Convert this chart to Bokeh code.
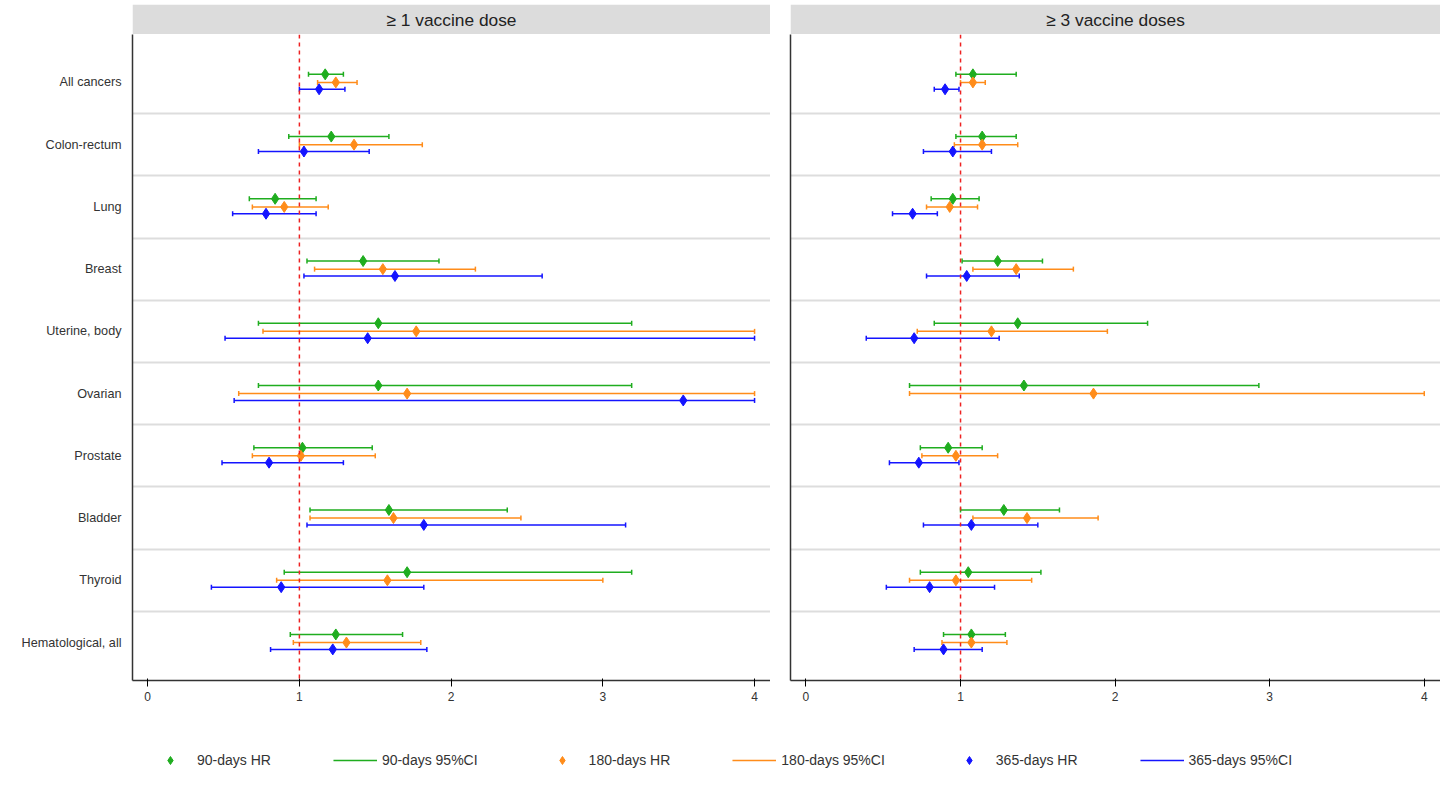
import numpy as np
from bokeh.plotting import figure
from bokeh.models import (ColumnDataSource, Whisker, TeeHead, Span, FixedTicker,
                          Legend, LegendItem, BoxAnnotation, Label)
from bokeh.layouts import column, row
from bokeh.embed import file_html
from bokeh.resources import INLINE

categories = ["All cancers", "Colon-rectum", "Lung", "Breast", "Uterine, body",
              "Ovarian", "Prostate", "Bladder", "Thyroid", "Hematological, all"]
panels = ["\u2265 1 vaccine dose", "\u2265 3 vaccine doses"]
xticks = [0, 1, 2, 3, 4]

# Panel 1: >= 1 dose
p1_hr90 = [1.17, 1.21, 0.84, 1.42, 1.52, 1.52, 1.02, 1.59, 1.71, 1.24]
p1_lo90 = [1.06, 0.93, 0.67, 1.05, 0.73, 0.73, 0.70, 1.07, 0.90, 0.94]
p1_hi90 = [1.29, 1.59, 1.11, 1.92, 3.19, 3.19, 1.48, 2.37, 3.19, 1.68]
p1_hr180 = [1.24, 1.36, 0.90, 1.55, 1.77, 1.71, 1.01, 1.62, 1.58, 1.31]
p1_lo180 = [1.12, 1.00, 0.69, 1.10, 0.76, 0.60, 0.69, 1.07, 0.85, 0.96]
p1_hi180 = [1.38, 1.81, 1.19, 2.16, 4.00, 4.00, 1.50, 2.46, 3.00, 1.80]
p1_hr365 = [1.13, 1.03, 0.78, 1.63, 1.45, 3.53, 0.80, 1.82, 0.88, 1.22]
p1_lo365 = [1.00, 0.73, 0.56, 1.03, 0.51, 0.57, 0.49, 1.05, 0.42, 0.81]
p1_hi365 = [1.30, 1.46, 1.11, 2.60, 4.00, 4.00, 1.29, 3.15, 1.82, 1.84]

# Panel 2: >= 3 doses
p2_hr90 = [1.08, 1.14, 0.95, 1.24, 1.37, 1.41, 0.92, 1.28, 1.05, 1.07]
p2_lo90 = [0.97, 0.97, 0.81, 1.01, 0.83, 0.67, 0.74, 1.00, 0.74, 0.89]
p2_hi90 = [1.36, 1.36, 1.12, 1.53, 2.21, 2.93, 1.14, 1.64, 1.52, 1.29]
p2_hr180 = [1.08, 1.14, 0.93, 1.36, 1.20, 1.86, 0.97, 1.43, 0.97, 1.07]
p2_lo180 = [1.00, 0.96, 0.78, 1.08, 0.72, 0.67, 0.75, 1.08, 0.67, 0.88]
p2_hi180 = [1.16, 1.37, 1.11, 1.73, 1.95, 4.00, 1.24, 1.89, 1.46, 1.30]
p2_hr365 = [0.90, 0.95, 0.69, 1.04, 0.70, np.nan, 0.73, 1.07, 0.80, 0.89]
p2_lo365 = [0.83, 0.76, 0.56, 0.78, 0.39, np.nan, 0.54, 0.76, 0.52, 0.70]
p2_hi365 = [0.99, 1.20, 0.85, 1.38, 1.25, np.nan, 0.99, 1.50, 1.22, 1.14]

COLORS = {"90": "#1fad1f", "180": "#ff8c1a", "365": "#1414ff"}
OFFS = {"90": 0.13, "180": 0.0, "365": -0.11}
n = len(categories)
ypos = [n - i for i in range(n)]


def make_header(title, width, left_border):
    h = figure(width=width, height=34, x_range=(0, 1), y_range=(0, 1),
               output_backend="svg", toolbar_location=None,
               min_border_left=left_border, min_border_right=0,
               min_border_top=4, min_border_bottom=0)
    h.axis.visible = False
    h.grid.visible = False
    h.outline_line_color = None
    h.add_layout(BoxAnnotation(fill_color="#dcdcdc", fill_alpha=1, line_color=None))
    h.add_layout(Label(x=0.5, y=0.5, text=title, text_align="center",
                       text_baseline="middle", text_font="Liberation Sans",
                       text_font_size="13pt", text_color="#222222"))
    return h


def make_panel(series, width, left_border, show_labels):
    p = figure(width=width, height=676, x_range=(-0.1, 4.105), y_range=(0.39, 10.77),
               output_backend="svg", toolbar_location=None,
               min_border_left=left_border, min_border_right=0, min_border_top=0,
               min_border_bottom=30)
    p.outline_line_color = None
    p.xgrid.visible = False
    p.ygrid.ticker = FixedTicker(ticks=[i + 0.5 for i in range(1, n)])
    p.ygrid.grid_line_color = "#dddddd"
    p.ygrid.grid_line_width = 2
    p.xaxis.ticker = FixedTicker(ticks=xticks)
    p.xaxis.minor_tick_line_color = None
    p.xaxis.major_label_text_font = "Liberation Sans"
    p.xaxis.major_label_text_font_size = "9pt"
    p.xaxis.major_label_text_color = "#333333"
    p.xaxis.axis_line_color = "#333333"
    p.xaxis.axis_line_width = 1.5
    p.yaxis.ticker = FixedTicker(ticks=ypos)
    p.yaxis.major_tick_line_color = None
    p.yaxis.minor_tick_line_color = None
    p.yaxis.axis_line_color = "#333333"
    p.yaxis.axis_line_width = 1.5
    if show_labels:
        p.yaxis.major_label_overrides = {y: c for y, c in zip(ypos, categories)}
        p.yaxis.major_label_text_font = "Liberation Sans"
        p.yaxis.major_label_text_font_size = "9.5pt"
        p.yaxis.major_label_text_color = "#333333"
    else:
        p.yaxis.major_label_text_font_size = "0pt"
    p.add_layout(Span(location=1, dimension="height", line_color="#ee2222",
                      line_dash="4 4", line_width=1.5))
    for key, (hr, lo, hi) in series.items():
        ys = [y + OFFS[key] for y in ypos]
        src = ColumnDataSource(dict(y=ys, hr=hr, lo=lo, hi=hi))
        c = COLORS[key]
        p.add_layout(Whisker(source=src, base="y", lower="lo", upper="hi",
                             dimension="width", line_color=c, line_width=1.5,
                             lower_head=TeeHead(size=5, line_color=c, line_width=1.5),
                             upper_head=TeeHead(size=5, line_color=c, line_width=1.5)))
        p.scatter("hr", "y", source=src, marker="diamond", size=11, color=c)
    return p


hA = make_header(panels[0], 770, 132)
hB = make_header(panels[1], 670, 20)
pA = make_panel({"90": (p1_hr90, p1_lo90, p1_hi90),
                 "180": (p1_hr180, p1_lo180, p1_hi180),
                 "365": (p1_hr365, p1_lo365, p1_hi365)}, 770, 132, True)
pB = make_panel({"90": (p2_hr90, p2_lo90, p2_hi90),
                 "180": (p2_hr180, p2_lo180, p2_hi180),
                 "365": (p2_hr365, p2_lo365, p2_hi365)}, 670, 20, False)

# legend figure
lg = figure(width=1440, height=100, output_backend="svg", toolbar_location=None,
            x_range=(0, 1), y_range=(0, 1), min_border=0)
lg.axis.visible = False
lg.grid.visible = False
lg.outline_line_color = None
items = []
for key, lbl in [("90", "90-days"), ("180", "180-days"), ("365", "365-days")]:
    c = COLORS[key]
    r1 = lg.scatter(x=[-5], y=[-5], marker="diamond", size=11, color=c)
    r2 = lg.line(x=[-5, -4], y=[-5, -5], line_color=c, line_width=1.5)
    items.append(LegendItem(label=f"{lbl} HR", renderers=[r1]))
    items.append(LegendItem(label=f"{lbl} 95%CI", renderers=[r2]))
leg = Legend(items=items, orientation="horizontal", location="center",
             border_line_color=None, spacing=62, glyph_width=44,
             label_text_font="Liberation Sans", label_text_font_size="10.5pt",
             label_text_color="#333333", background_fill_alpha=0)
lg.add_layout(leg, "center")

layout = column(row(hA, hB, spacing=0), row(pA, pB, spacing=0), lg, spacing=0)
open("out.html", "w").write(file_html(layout, INLINE))
